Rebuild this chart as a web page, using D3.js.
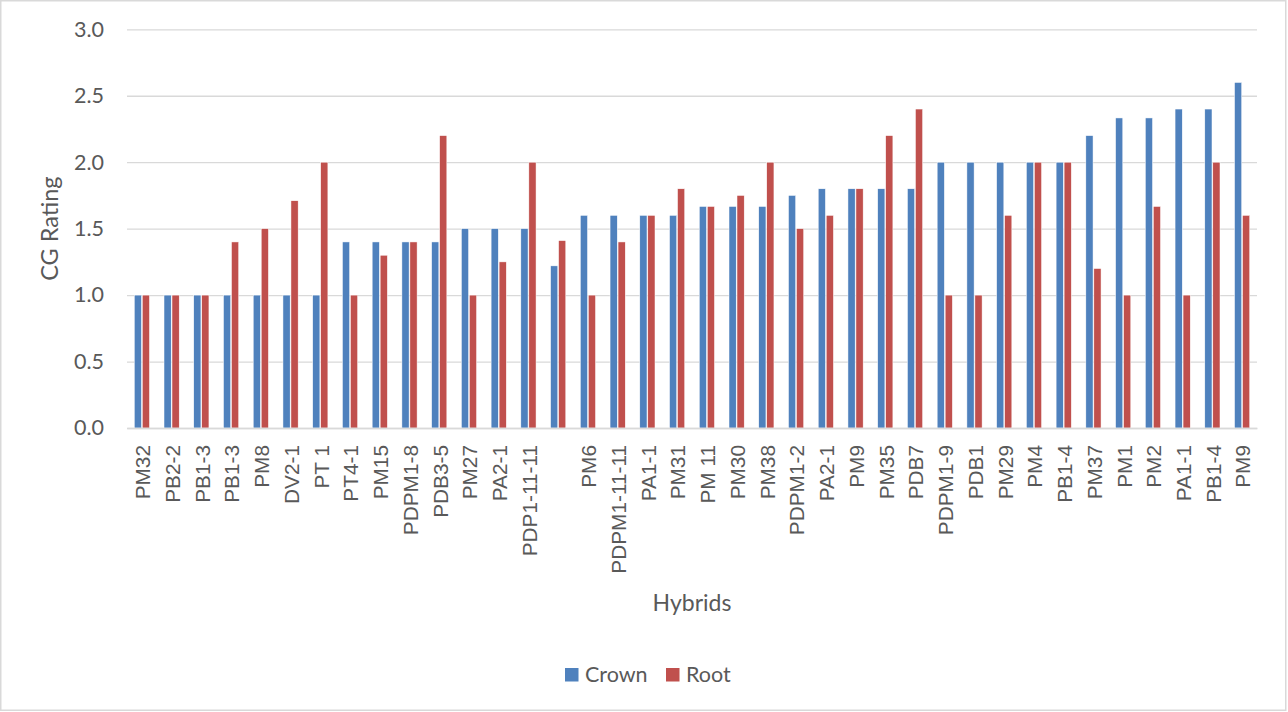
<!DOCTYPE html>
<html>
<head>
<meta charset="utf-8">
<script src="https://cdn.jsdelivr.net/npm/d3@7"></script>
<style>
  html, body { margin: 0; padding: 0; background: #fff; }
  svg { display: block; }
</style>
</head>
<body>
<script>
// Hybrid names, in plotted order (one unnamed entry)
const categories = ["PM32","PB2-2","PB1-3","PB1-3","PM8","DV2-1","PT 1","PT4-1","PM15","PDPM1-8",
  "PDB3-5","PM27","PA2-1","PDP1-11-11","","PM6","PDPM1-11-11","PA1-1","PM31","PM 11",
  "PM30","PM38","PDPM1-2","PA2-1","PM9","PM35","PDB7","PDPM1-9","PDB1","PM29",
  "PM4","PB1-4","PM37","PM1","PM2","PA1-1","PB1-4","PM9"];

// CG ratings per hybrid
const crown = [1,1,1,1,1,1,1,1.4,1.4,1.4,
  1.4,1.5,1.5,1.5,1.22,1.6,1.6,1.6,1.6,1.667,
  1.667,1.667,1.75,1.8,1.8,1.8,1.8,2,2,2,
  2,2,2.2,2.333,2.333,2.4,2.4,2.6];
const root = [1,1,1,1.4,1.5,1.71,2,1,1.3,1.4,
  2.2,1,1.25,2,1.41,1,1.4,1.6,1.8,1.667,
  1.75,2,1.5,1.6,1.8,2.2,2.4,1,1,1.6,
  2,2,1.2,1,1.667,1,2,1.6];

const seriesNames = ["Crown", "Root"];
const seriesColors = ["#4f81bd", "#c0504d"];
const yTicks = [0, 0.5, 1.0, 1.5, 2.0, 2.5, 3.0];

const W = 1288, H = 712;
const plot = { left: 127, right: 1257, top: 29.3, bottom: 428 };
const textColor = "#595959";
const uiFont = "Lato, 'Open Sans', sans-serif";

const svg = d3.select("body").append("svg")
  .attr("width", W).attr("height", H);

// chart border
svg.append("rect")
  .attr("x", 0.75).attr("y", 0.75)
  .attr("width", W - 3).attr("height", H - 2.5)
  .attr("fill", "#fff").attr("stroke", "#d9d9d9").attr("stroke-width", 1.5);

const x = d3.scaleBand()
  .domain(d3.range(categories.length))
  .range([plot.left, plot.right])
  .paddingInner(0).paddingOuter(0);

const step = x.bandwidth();
const xSub = d3.scaleBand()
  .domain(seriesNames)
  .range([step / 2 - 7.6, step / 2 + 7.6])
  .paddingInner(0.1);

const y = d3.scaleLinear().domain([0, 3]).range([plot.bottom, plot.top]);

// horizontal gridlines + value labels
const yAxis = d3.axisLeft(y)
  .tickValues(yTicks)
  .tickFormat(d3.format(".1f"))
  .tickSize(-(plot.right - plot.left))
  .tickPadding(23);

const gy = svg.append("g")
  .attr("transform", `translate(${plot.left},0)`)
  .call(yAxis);
gy.select(".domain").remove();
gy.selectAll(".tick line").attr("stroke", "#d9d9d9").attr("stroke-width", 1.3);
gy.selectAll(".tick text")
  .attr("fill", textColor)
  .style("font-family", uiFont)
  .style("font-size", "21.5px");

// bars
const data = categories.map((c, i) => ({ i, values: [crown[i], root[i]] }));
const groups = svg.append("g").selectAll("g")
  .data(data)
  .join("g")
  .attr("transform", d => `translate(${x(d.i)},0)`);

groups.selectAll("rect")
  .data(d => d.values.map((v, k) => ({ key: seriesNames[k], v, k })))
  .join("rect")
  .attr("x", d => xSub(d.key))
  .attr("width", xSub.bandwidth())
  .attr("y", d => y(d.v))
  .attr("height", d => y(0) - y(d.v))
  .attr("fill", d => seriesColors[d.k])
  .attr("stroke", "#fff")
  .attr("stroke-width", 0.5);

// category axis
const xAxis = d3.axisBottom(x).tickSize(0).tickFormat(i => categories[i]);
const gx = svg.append("g")
  .attr("transform", `translate(0,${plot.bottom})`)
  .call(xAxis);
gx.select(".domain").attr("stroke", "#d9d9d9").attr("stroke-width", 1.5);
gx.selectAll(".tick text")
  .attr("fill", textColor)
  .style("font-family", "'Liberation Sans', Arial, sans-serif")
  .style("font-size", "20.8px")
  .attr("text-anchor", "end")
  .attr("transform", "translate(0,17) rotate(-90)")
  .attr("x", 0).attr("y", 0)
  .attr("dy", "0.4em");

// axis titles
svg.append("text")
  .attr("transform", `translate(58,${(plot.top + plot.bottom) / 2}) rotate(-90)`)
  .attr("text-anchor", "middle")
  .attr("fill", textColor)
  .style("font-family", uiFont)
  .style("font-size", "23.5px")
  .text("CG Rating");

svg.append("text")
  .attr("x", (plot.left + plot.right) / 2)
  .attr("y", 611)
  .attr("text-anchor", "middle")
  .attr("fill", textColor)
  .style("font-family", uiFont)
  .style("font-size", "23px")
  .text("Hybrids");

// legend
const legendX = [565, 666];
const legend = svg.append("g").selectAll("g")
  .data(seriesNames)
  .join("g")
  .attr("transform", (d, k) => `translate(${legendX[k]},668)`);
legend.append("rect")
  .attr("width", 13.5).attr("height", 13.5)
  .attr("fill", (d, k) => seriesColors[k]);
legend.append("text")
  .attr("x", 20).attr("y", 14)
  .attr("fill", textColor)
  .style("font-family", uiFont)
  .style("font-size", "21.5px")
  .text(d => d);
</script>
</body>
</html>
